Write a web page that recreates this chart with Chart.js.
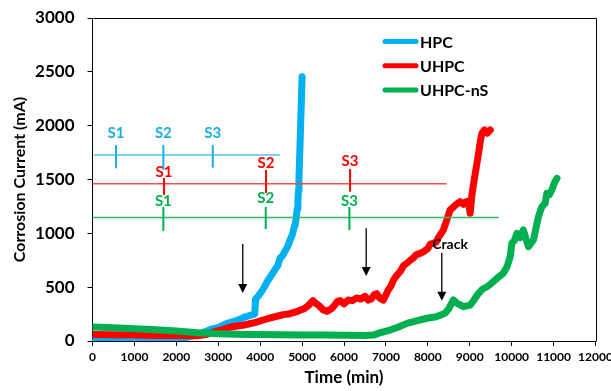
<!DOCTYPE html>
<html>
<head>
<meta charset="utf-8">
<script src="https://cdn.jsdelivr.net/npm/chart.js@4.4.1/dist/chart.umd.min.js"></script>
<style>
html, body { margin: 0; padding: 0; background: #fff; }
canvas { display: block; }
</style>
</head>
<body>
<canvas id="corrosion_chart" width="611" height="391"></canvas>
<script>
// series (time in min, current in mA)
var seriesNames = ['HPC', 'UHPC', 'UHPC-nS'];
var seriesColors = ['#00B0F0', '#FF0000', '#00B050'];

var hpcTime = [0, 300, 800, 1300, 1800, 2200, 2500, 2830, 3000, 3230, 3400, 3500, 3650, 3780, 3870, 3890, 3960, 4050, 4100, 4180, 4240, 4350, 4420, 4475, 4530, 4600, 4660, 4714, 4770, 4800, 4840, 4860, 4885, 4900, 4915, 4925, 4945, 4965, 4985, 5000];
var hpcCurrent = [15, 12, 10, 10, 15, 30, 55, 109, 125, 167, 185, 200, 225, 240, 250, 390, 420, 470, 500, 560, 595, 660, 700, 770, 790, 840, 880, 938, 990, 1040, 1090, 1150, 1230, 1300, 1400, 1500, 1750, 2000, 2250, 2455];

var uhpcTime = [0, 500, 1000, 1500, 2000, 2500, 2700, 2915, 3100, 3300, 3450, 3630, 3750, 3870, 4070, 4250, 4400, 4550, 4670, 4870, 4950, 5050, 5150, 5260, 5330, 5400, 5500, 5590, 5700, 5750, 5850, 5910, 6000, 6100, 6200, 6300, 6400, 6500, 6580, 6650, 6720, 6780, 6850, 6940, 7050, 7120, 7180, 7260, 7350, 7420, 7500, 7580, 7650, 7720, 7820, 7900, 8000, 8060, 8130, 8200, 8250, 8320, 8370, 8450, 8530, 8600, 8650, 8770, 8850, 8900, 8970, 9010, 9050, 9080, 9150, 9210, 9250, 9290, 9350, 9420, 9490];
var uhpcCurrent = [60, 58, 55, 52, 50, 48, 60, 86, 105, 130, 140, 149, 160, 170, 195, 215, 230, 245, 250, 272, 285, 300, 330, 375, 350, 330, 290, 275, 300, 320, 370, 375, 345, 380, 375, 400, 390, 415, 380, 390, 430, 440, 400, 380, 470, 510, 567, 610, 650, 700, 722, 750, 770, 800, 815, 830, 860, 900, 908, 920, 960, 1000, 1031, 1120, 1217, 1240, 1260, 1294, 1270, 1290, 1300, 1186, 1350, 1433, 1600, 1744, 1850, 1929, 1960, 1930, 1960];

var nsTime = [0, 500, 1000, 1500, 2000, 2500, 3000, 3500, 3870, 4500, 5000, 5500, 6000, 6500, 6700, 6850, 7100, 7300, 7500, 7750, 7980, 8200, 8410, 8500, 8610, 8700, 8850, 9010, 9100, 9210, 9300, 9410, 9500, 9650, 9800, 9890, 9965, 10005, 10060, 10125, 10200, 10280, 10340, 10400, 10520, 10580, 10640, 10720, 10800, 10840, 10900, 10960, 11020, 11080];
var nsCurrent = [130, 122, 114, 104, 92, 76, 68, 62, 60, 57, 56, 55, 54, 52, 55, 75, 102, 130, 164, 190, 211, 225, 257, 300, 381, 350, 319, 334, 380, 443, 480, 504, 530, 582, 629, 690, 783, 908, 930, 1000, 960, 1031, 950, 876, 938, 1050, 1155, 1248, 1279, 1372, 1360, 1403, 1470, 1511];

var timeTicks = [0, 1000, 2000, 3000, 4000, 5000, 6000, 7000, 8000, 9000, 10000, 11000, 12000];
var currentTicks = [0, 500, 1000, 1500, 2000, 2500, 3000];

// stage marks S1..S3 for each mix
var stageLabels = ['S1', 'S2', 'S3'];
var stageLevel = [1728, 1461, 1146];
var stageLineEnd = [4470, 8450, 9690];
var stageTimes = [[561, 1690, 2869], [1707, 4140, 6145], [1690, 4133, 6129]];
var stageTickTop = [[1820, 1820, 1820], [1514, 1589, 1598], [1245, 1245, 1245]];
var stageTickBottom = [[1604, 1590, 1610], [1356, 1375, 1387], [1022, 1040, 1030]];
var stageLabelY = [[1935, 1935, 1935], [1570, 1651, 1666], [1300, 1326, 1303]];
var stageLineColors = ['#4DC3F0', '#F25050', '#33B864'];
var stageTextColors = ['#1AAEE6', '#FF0000', '#00B050'];

// arrows pointing at the curves
var arrowTime = [3585, 6530, 8333];
var arrowFrom = [901, 1047, 820];
var arrowTo = [446, 604, 374];
var crackTime = 8530;
var crackCurrent = 901;

function toPoints(xs, ys) {
    return xs.map(function(x, i) { return {x: x, y: ys[i]}; });
}

var FONT = 'Lato, "Liberation Sans", sans-serif';

var stagePlugin = {
    id: 'stageMarks',
    afterDatasetsDraw: function(chart) {
        var ctx = chart.ctx;
        var xs = chart.scales.x, ys = chart.scales.y;
        ctx.save();
        for (var s = 0; s < 3; s++) {
            ctx.strokeStyle = stageLineColors[s];
            ctx.lineWidth = 1.5;
            ctx.beginPath();
            ctx.moveTo(xs.getPixelForValue(s === 0 ? 30 : 0), ys.getPixelForValue(stageLevel[s]));
            ctx.lineTo(xs.getPixelForValue(stageLineEnd[s]), ys.getPixelForValue(stageLevel[s]));
            ctx.stroke();
            ctx.lineWidth = 2;
            ctx.font = 'bold 15px ' + FONT;
            ctx.textAlign = 'center';
            ctx.textBaseline = 'middle';
            for (var k = 0; k < 3; k++) {
                var px = xs.getPixelForValue(stageTimes[s][k]);
                ctx.strokeStyle = stageTextColors[s];
                ctx.beginPath();
                ctx.moveTo(px, ys.getPixelForValue(stageTickTop[s][k]));
                ctx.lineTo(px, ys.getPixelForValue(stageTickBottom[s][k]));
                ctx.stroke();
                ctx.fillStyle = stageTextColors[s];
                ctx.fillText(stageLabels[k], px, ys.getPixelForValue(stageLabelY[s][k]));
            }
        }

        // arrows
        ctx.strokeStyle = '#000';
        ctx.fillStyle = '#000';
        ctx.lineWidth = 1.3;
        for (var a = 0; a < arrowTime.length; a++) {
            var ax = xs.getPixelForValue(arrowTime[a]);
            var y1 = ys.getPixelForValue(arrowFrom[a]);
            var y2 = ys.getPixelForValue(arrowTo[a]);
            ctx.beginPath();
            ctx.moveTo(ax, y1);
            ctx.lineTo(ax, y2 - 8);
            ctx.stroke();
            ctx.beginPath();
            ctx.moveTo(ax - 4.5, y2 - 9);
            ctx.lineTo(ax + 4.5, y2 - 9);
            ctx.lineTo(ax, y2);
            ctx.closePath();
            ctx.fill();
        }
        ctx.font = 'bold 14px ' + FONT;
        ctx.fillText('Crack', xs.getPixelForValue(crackTime), ys.getPixelForValue(crackCurrent));
        ctx.restore();
    },
    afterDraw: function(chart) {
        var ctx = chart.ctx;
        var area = chart.chartArea;
        ctx.save();
        // plot frame
        ctx.strokeStyle = '#000';
        ctx.lineWidth = 1;
        ctx.beginPath();
        ctx.moveTo(Math.round(area.left) + 0.5, Math.round(area.top) + 0.5);
        ctx.lineTo(Math.round(area.right) + 0.5, Math.round(area.top) + 0.5);
        ctx.lineTo(Math.round(area.right) + 0.5, Math.round(area.bottom) + 0.5);
        ctx.stroke();

        // legend
        ctx.font = 'bold 16px ' + FONT;
        ctx.textBaseline = 'middle';
        ctx.textAlign = 'left';
        ctx.lineCap = 'round';
        ctx.lineWidth = 5;
        for (var i = 0; i < seriesNames.length; i++) {
            var ly = 41.5 + i * 24.3;
            ctx.strokeStyle = seriesColors[i];
            ctx.beginPath();
            ctx.moveTo(385, ly);
            ctx.lineTo(416, ly);
            ctx.stroke();
            ctx.fillStyle = '#000';
            ctx.fillText(seriesNames[i], 420, ly + 1);
        }
        ctx.restore();
    }
};

function lineSet(i, xs, ys, order) {
    return {
        label: seriesNames[i],
        data: toPoints(xs, ys),
        borderColor: seriesColors[i],
        backgroundColor: seriesColors[i],
        borderWidth: 7,
        pointRadius: 0,
        borderJoinStyle: 'round',
        borderCapStyle: 'round',
        tension: 0,
        order: order
    };
}

function plainNumber(value) {
    return String(value);
}

var ctxCorrosion = document.getElementById('corrosion_chart').getContext('2d');
new Chart(ctxCorrosion, {
    type: 'line',
    data: {
        datasets: [
            lineSet(0, hpcTime, hpcCurrent, 2),
            lineSet(1, uhpcTime, uhpcCurrent, 1),
            lineSet(2, nsTime, nsCurrent, 0)
        ]
    },
    options: {
        responsive: false,
        animation: false,
        events: [],
        layout: { padding: { top: 18, right: 15.5, left: 0, bottom: 0 } },
        plugins: { legend: { display: false }, tooltip: { enabled: false } },
        scales: {
            x: {
                type: 'linear',
                min: 0,
                max: 12000,
                afterBuildTicks: function(scale) {
                    scale.ticks = timeTicks.map(function(v) { return {value: v}; });
                },
                afterFit: function(scale) {
                    scale.height = 50;
                    scale.paddingLeft = 0;
                    scale.paddingRight = 0;
                },
                border: { color: '#000', width: 1 },
                grid: { drawOnChartArea: false, drawTicks: true, tickLength: 5, color: '#000' },
                ticks: {
                    color: '#000',
                    font: { family: FONT, size: 12, weight: 'bold' },
                    padding: 4,
                    maxRotation: 0,
                    autoSkip: false,
                    callback: plainNumber
                },
                title: {
                    display: true,
                    text: 'Time (min)',
                    color: '#000',
                    font: { family: FONT, size: 17, weight: 'bold' },
                    padding: { top: 3, bottom: 3 }
                }
            },
            y: {
                type: 'linear',
                min: 0,
                max: 3000,
                afterBuildTicks: function(scale) {
                    scale.ticks = currentTicks.map(function(v) { return {value: v}; });
                },
                afterFit: function(scale) {
                    scale.width = 92.5;
                    scale.paddingTop = 0;
                    scale.paddingBottom = 0;
                },
                border: { color: '#000', width: 1 },
                grid: { drawOnChartArea: false, drawTicks: true, tickLength: 5, color: '#000' },
                ticks: {
                    color: '#000',
                    font: { family: FONT, size: 17, weight: 'bold' },
                    padding: 13,
                    callback: plainNumber
                },
                title: {
                    display: true,
                    text: 'Corrosion Current (mA)',
                    color: '#000',
                    font: { family: FONT, size: 16, weight: 'bold' },
                    padding: { top: 10, bottom: 10 }
                }
            }
        }
    },
    plugins: [stagePlugin]
});
</script>
</body>
</html>
